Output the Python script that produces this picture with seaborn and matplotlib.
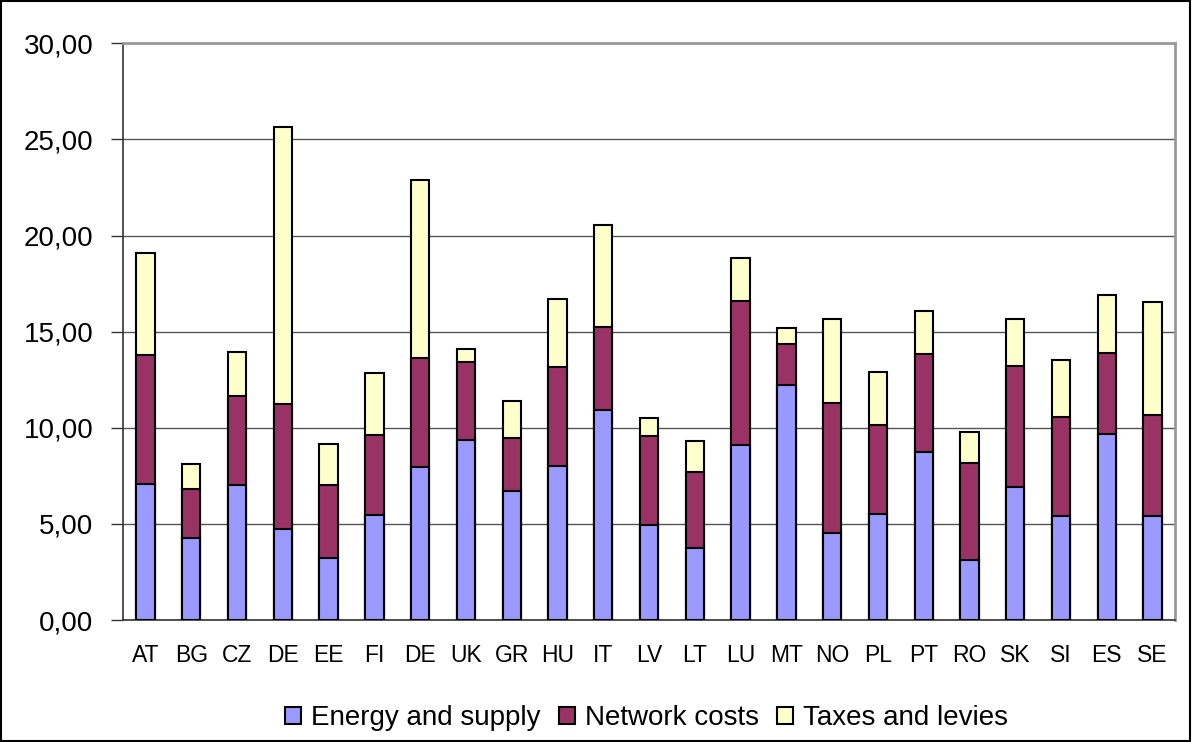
import numpy as np
import pandas as pd
import matplotlib
matplotlib.use("Agg")
import matplotlib.pyplot as plt
from matplotlib.patches import Patch, Rectangle
from matplotlib.ticker import FuncFormatter, MultipleLocator, FixedLocator
import seaborn as sns

# Data
countries = ["AT", "BG", "CZ", "DE", "EE", "FI", "DE", "UK", "GR", "HU", "IT", "LV",
             "LT", "LU", "MT", "NO", "PL", "PT", "RO", "SK", "SI", "ES", "SE"]
energy = [7.10, 4.25, 7.01, 4.74, 3.21, 5.47, 7.95, 9.38, 6.71, 8.03, 10.90, 4.92,
          3.77, 9.10, 12.21, 4.54, 5.49, 8.74, 3.12, 6.92, 5.39, 9.70, 5.39]
network = [6.70, 2.56, 4.62, 6.51, 3.79, 4.18, 5.66, 4.06, 2.75, 5.14, 4.35, 4.65,
           3.92, 7.49, 2.17, 6.75, 4.66, 5.11, 5.04, 6.28, 5.16, 4.17, 5.25]
taxes = [5.30, 1.33, 2.29, 14.39, 2.17, 3.21, 9.29, 0.64, 1.91, 3.51, 5.32, 0.95,
         1.61, 2.26, 0.79, 4.36, 2.77, 2.20, 1.61, 2.48, 2.97, 3.05, 5.90]
series_names = ["Energy and supply", "Network costs", "Taxes and levies"]
colors = ["#9999FF", "#993366", "#FFFFCC"]

df = pd.DataFrame({"pos": np.arange(len(countries)), "energy": energy,
                   "network": network, "taxes": taxes})
df["lvl1"] = df["energy"]
df["lvl2"] = df["energy"] + df["network"]
df["lvl3"] = df["lvl2"] + df["taxes"]

sns.set_style("white")
plt.rcParams["font.family"] = ["Liberation Sans", "DejaVu Sans"]
plt.rcParams["text.color"] = "black"

fig = plt.figure(figsize=(11.92, 7.42), dpi=100)
ax = fig.add_axes([0.1029, 0.1644, 0.8832, 0.7772])

# stacked bars: draw cumulative totals from the top layer down
for col, c in zip(["lvl3", "lvl2", "lvl1"], colors[::-1]):
    sns.barplot(data=df, x="pos", y=col, color=c, width=0.40, ax=ax,
                edgecolor="black", linewidth=1.5, saturation=1, zorder=3)

ax.set_ylim(0, 30)
ax.set_xlim(-0.5, len(countries) - 0.5)
ax.yaxis.set_major_locator(MultipleLocator(5))
ax.yaxis.set_major_formatter(FuncFormatter(lambda v, p: f"{v:.2f}".replace(".", ",")))
ax.grid(axis="y", color="#555555", linewidth=1.0, zorder=0)
ax.set_axisbelow(True)

ax.set_xticks(np.arange(len(countries)))
ax.set_xticklabels(countries, fontsize=16.5)
ax.xaxis.set_minor_locator(FixedLocator(np.arange(-0.5, len(countries), 1.0)))
ax.tick_params(axis="x", which="major", length=0, pad=17, labelcolor="black")
ax.tick_params(axis="x", which="minor", length=6, width=1, color="#333333", direction="out")
ax.tick_params(axis="y", length=9, width=1, color="#333333", direction="out",
               labelsize=20, pad=12, left=True, labelcolor="black")
ax.set_xlabel("")
ax.set_ylabel("")

for side in ["left", "bottom"]:
    ax.spines[side].set_color("#333333")
    ax.spines[side].set_linewidth(1.2)
for side in ["top", "right"]:
    ax.spines[side].set_visible(True)
    ax.spines[side].set_color("#999999")
    ax.spines[side].set_linewidth(2)

handles = [Patch(facecolor=c, edgecolor="black", linewidth=1.5) for c in colors]
leg = fig.legend(handles, series_names, loc="center", bbox_to_anchor=(0.5424, 0.032),
                 ncol=3, frameon=False, fontsize=20, handlelength=0.58, handleheight=0.58,
                 handletextpad=0.36, columnspacing=0.64)
for t in leg.get_texts():
    t.set_color("black")

fig.patches.append(Rectangle((0.001, 0.001), 0.997, 0.997, transform=fig.transFigure,
                             fill=False, edgecolor="black", linewidth=1.5))

fig.savefig("out.png", dpi=100)
